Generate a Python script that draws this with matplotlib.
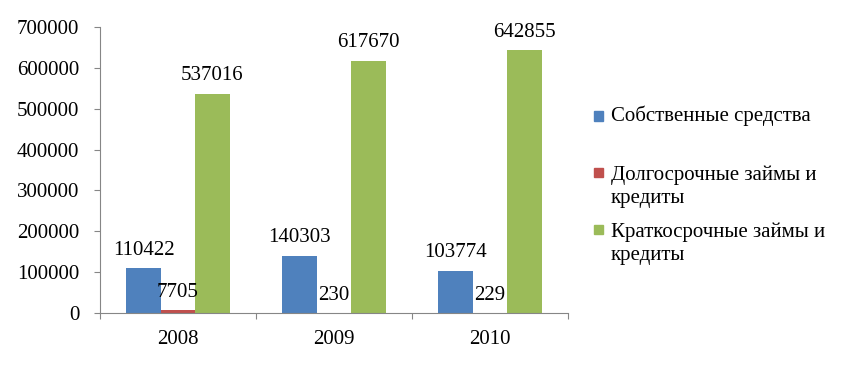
#!/usr/bin/env python3

import numpy as np
import matplotlib
matplotlib.use('Agg')
import matplotlib.pyplot as plt
from matplotlib.patches import Rectangle

years = ['2008', '2009', '2010']
own_funds = [110422, 140303, 103774]
long_loans = [7705, 230, 229]
short_loans = [537016, 617670, 642855]

series_names = ['Собственные средства',
                'Долгосрочные займы и\nкредиты',
                'Краткосрочные займы и\nкредиты']
colors = ['#4F81BD', '#C0504D', '#9BBB59']

plt.rcParams['font.family'] = ['Liberation Serif', 'DejaVu Serif']
fs = 15

def main():
    fig = plt.figure(figsize=(8.54, 3.68), dpi=100)
    ax = fig.add_axes([100/854, 1 - 313/368, 468/854, 286/368])

    x = np.arange(len(years))
    w = 0.221
    for i, (vals, col) in enumerate(zip([own_funds, long_loans, short_loans], colors)):
        bars = ax.bar(x + (i - 1) * w, vals, w, color=col, zorder=2)
        for b, v in zip(bars, vals):
            ax.annotate(str(v), (b.get_x() + b.get_width() / 2, b.get_height()),
                        xytext=(0, 6), textcoords='offset points',
                        ha='center', va='bottom', fontsize=fs)

    ax.set_xlim(-0.5, 2.5)
    ax.set_ylim(0, 700000)
    ax.set_yticks(range(0, 700001, 100000))
    ax.set_yticklabels([str(v) for v in range(0, 700001, 100000)], fontsize=fs)

    ax.set_xticks([-0.5, 0.5, 1.5, 2.5])
    ax.set_xticklabels([])
    ax.set_xticks(x, minor=True)
    ax.set_xticklabels(years, minor=True, fontsize=fs)
    ax.tick_params(axis='x', which='minor', length=0, pad=12)
    ax.tick_params(axis='x', which='major', length=4, color='#868686', direction='out')
    ax.tick_params(axis='y', length=4, color='#868686', direction='out', pad=11)

    for side in ['top', 'right']:
        ax.spines[side].set_visible(False)
    for side in ['left', 'bottom']:
        ax.spines[side].set_color('#868686')

    # legend drawn by hand to match the uneven spacing
    marker_y = [116, 172, 229]
    text_y = [116, 186.5, 243.5]
    for col, name, my, ty in zip(colors, series_names, marker_y, text_y):
        fig.patches.append(Rectangle((594/854, 1 - (my + 4.5)/368), 9/854, 9/368,
                                     transform=fig.transFigure, color=col))
        fig.text(611/854, 1 - ty/368, name, fontsize=fs, va='center', ha='left',
                 linespacing=1.32)

    fig.savefig('out.png', dpi=100)

if __name__ == '__main__':
    main()
